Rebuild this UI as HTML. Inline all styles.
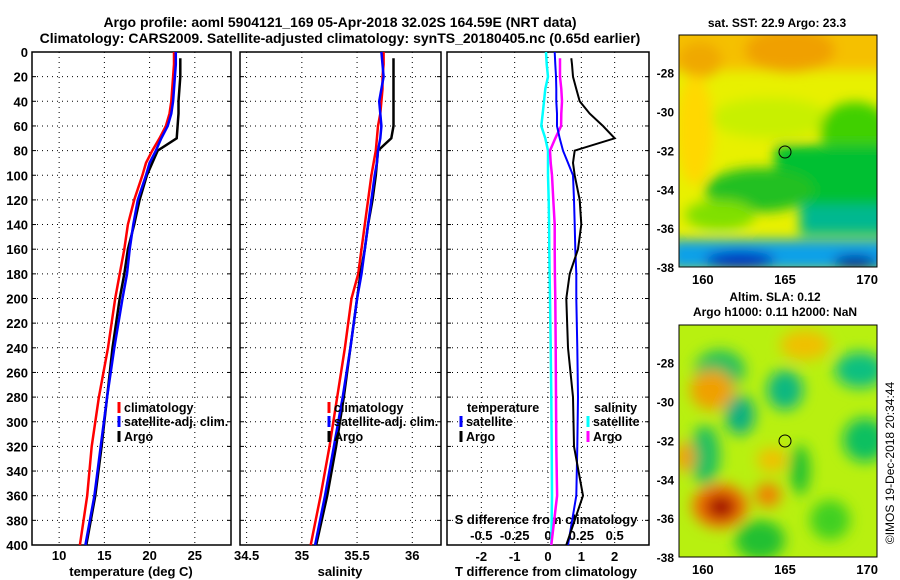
<!DOCTYPE html>
<html><head><meta charset="utf-8"><style>
html,body{margin:0;padding:0;background:#fff;}
svg{display:block;font-family:"Liberation Sans",sans-serif;font-weight:bold;}
</style></head><body>
<svg id="c" width="900" height="580" viewBox="0 0 900 580" xmlns="http://www.w3.org/2000/svg">
<defs>
<filter id="b1" x="-50%" y="-50%" width="200%" height="200%"><feGaussianBlur stdDeviation="6"/></filter>
<filter id="b2" x="-50%" y="-50%" width="200%" height="200%"><feGaussianBlur stdDeviation="7"/></filter>
<clipPath id="m1"><rect x="679" y="35" width="198" height="232"/></clipPath>
<clipPath id="m2"><rect x="679" y="325" width="198" height="232"/></clipPath>
</defs>
<text x="340" y="27" text-anchor="middle" font-size="14">Argo profile: aoml 5904121_169 05-Apr-2018 32.02S 164.59E (NRT data)</text>
<text x="340" y="43" text-anchor="middle" font-size="14">Climatology: CARS2009. Satellite-adjusted climatology: synTS_20180405.nc (0.65d earlier)</text>
<g id="g"></g>
<g clip-path="url(#m1)">
<rect x="679" y="35" width="198" height="232" fill="#e8f000"/>
<g filter="url(#b1)">
<rect x="660" y="15" width="240" height="55" fill="#f5c000"/>
<ellipse cx="790" cy="50" rx="45" ry="22" fill="#f0a000"/>
<ellipse cx="700" cy="60" rx="22" ry="18" fill="#f0a800"/>
<ellipse cx="770" cy="118" rx="60" ry="20" fill="#c8f000"/>
<ellipse cx="855" cy="130" rx="35" ry="28" fill="#40d000"/>
<rect x="775" y="145" width="130" height="60" fill="#00c030"/>
<ellipse cx="760" cy="190" rx="55" ry="22" fill="#20c020"/>
<ellipse cx="720" cy="215" rx="35" ry="15" fill="#80e000"/>
<rect x="800" y="205" width="100" height="30" fill="#00b890"/>
<rect x="670" y="240" width="240" height="30" fill="#10a0e8"/>
<ellipse cx="740" cy="260" rx="35" ry="9" fill="#0030c0"/>
<ellipse cx="855" cy="262" rx="22" ry="7" fill="#0020a0"/>
<ellipse cx="695" cy="130" rx="18" ry="55" fill="#ffd800"/>
</g>
</g>
<rect x="679" y="35" width="198" height="232" fill="none" stroke="#000"/>
<circle cx="785" cy="152" r="6" fill="none" stroke="#000"/>
<text x="777" y="27" text-anchor="middle" font-size="12">sat. SST: 22.9 Argo: 23.3</text>
<g clip-path="url(#m2)">
<rect x="679" y="325" width="198" height="232" fill="#b8f010"/>
<g filter="url(#b2)">
<ellipse cx="720" cy="370" rx="25" ry="20" fill="#20c060"/>
<ellipse cx="785" cy="390" rx="18" ry="20" fill="#10b880"/>
<ellipse cx="860" cy="370" rx="25" ry="18" fill="#10c080"/>
<ellipse cx="740" cy="415" rx="15" ry="20" fill="#10b080"/>
<ellipse cx="705" cy="455" rx="15" ry="30" fill="#20c060"/>
<ellipse cx="865" cy="440" rx="22" ry="22" fill="#10c060"/>
<ellipse cx="800" cy="470" rx="10" ry="25" fill="#20c030"/>
<ellipse cx="760" cy="540" rx="25" ry="20" fill="#20c030"/>
<ellipse cx="830" cy="520" rx="20" ry="20" fill="#40d020"/>
<ellipse cx="712" cy="390" rx="22" ry="20" fill="#f0a000"/>
<ellipse cx="805" cy="345" rx="25" ry="15" fill="#f0c000"/>
<ellipse cx="772" cy="460" rx="15" ry="12" fill="#f0c000"/>
<ellipse cx="768" cy="495" rx="13" ry="12" fill="#f08000"/>
<ellipse cx="685" cy="457" rx="10" ry="15" fill="#f0a000"/>
<ellipse cx="720" cy="506" rx="28" ry="22" fill="#f07000"/>
<ellipse cx="721" cy="507" rx="15" ry="12" fill="#a00000"/>
</g>
</g>
<rect x="679" y="325" width="198" height="232" fill="none" stroke="#000"/>
<circle cx="785" cy="441" r="6" fill="none" stroke="#000"/>
<text x="775" y="301" text-anchor="middle" font-size="12">Altim. SLA: 0.12</text>
<text x="775" y="316" text-anchor="middle" font-size="12">Argo h1000: 0.11 h2000: NaN</text>
<text transform="translate(894,463) rotate(-90)" text-anchor="middle" font-size="12" font-weight="normal">©IMOS 19-Dec-2018 20:34:44</text>
</svg>
<script>
const depths=[0,10,20,30,40,50,60,70,80,90,100,120,140,160,180,200,240,280,320,360,400];
const argoDepths=[5,10,20,30,40,50,60,70,80,90,100,120,140,160,180,200,240,280,320,360,400];
const tempClim=[22.7,22.7,22.6,22.5,22.4,22.2,21.8,21.1,20.3,19.6,19.2,18.3,17.6,17.2,16.7,16.2,15.4,14.4,13.6,13.1,12.3];
const tempSat=[22.9,22.9,22.8,22.7,22.6,22.4,22.0,21.3,20.7,20.0,19.6,18.7,18.2,17.8,17.5,17.0,16.1,15.3,14.6,13.9,12.9];
const tempArgo=[23.4,23.4,23.4,23.3,23.2,23.2,23.1,23.0,20.9,20.3,19.7,18.9,18.3,17.6,17.2,16.7,15.9,15.3,14.7,14.0,13.0];
const salClim=[35.74,35.74,35.73,35.73,35.72,35.71,35.69,35.68,35.67,35.65,35.63,35.6,35.57,35.54,35.51,35.45,35.39,35.32,35.25,35.17,35.08];
const salSat=[35.72,35.73,35.74,35.72,35.7,35.71,35.72,35.71,35.69,35.68,35.66,35.63,35.6,35.57,35.54,35.5,35.44,35.37,35.29,35.21,35.12];
const salArgo=[35.83,35.83,35.83,35.83,35.83,35.83,35.83,35.81,35.69,35.68,35.67,35.64,35.6,35.57,35.53,35.5,35.44,35.38,35.31,35.23,35.13];
const tDiffSat=[0.2,0.22,0.24,0.25,0.25,0.27,0.27,0.35,0.45,0.6,0.75,0.78,0.8,0.82,0.85,0.85,0.88,0.9,0.88,0.85,0.6];
const tDiffArgo=[0.7,0.72,0.75,0.85,0.95,1.25,1.65,2.0,0.8,0.75,0.8,0.95,1.0,0.9,0.65,0.55,0.6,0.75,0.78,1.05,0.55];
const sDiffSat=[-0.015,-0.01,0,-0.02,-0.03,-0.04,-0.05,-0.02,0,0,0,0.005,0.008,0.01,0.012,0.015,0.02,0.025,0.028,0.03,0.025];
const sDiffArgo=[0.09,0.09,0.09,0.1,0.105,0.1,0.098,0.055,0.015,0.02,0.03,0.04,0.05,0.05,0.052,0.055,0.058,0.06,0.062,0.068,0.025];
const depthTicks=[0,20,40,60,80,100,120,140,160,180,200,220,240,260,280,300,320,340,360,380,400];
const tempTicks=[10,15,20,25];
const salTicks=[34.5,35,35.5,36];
const salTickLabels=["34.5","35","35.5","36"];
const tdTicks=[-2,-1,0,1,2];
const sdTicks=[-0.5,-0.25,0,0.25,0.5];
const sdTickLabels=["-0.5","-0.25","0","0.25","0.5"];
const latTicks=[-28,-30,-32,-34,-36,-38];
const lonTicks=[160,165,170];

const NS="http://www.w3.org/2000/svg";
const G=document.getElementById('g');
function el(t,a,p){const e=document.createElementNS(NS,t);for(const k in a)e.setAttribute(k,a[k]);(p||G).appendChild(e);return e;}
const Y0=52,Y1=545;
const yD=d=>Y0+(d/400)*(Y1-Y0);
function lin(d0,d1,r0,r1){return v=>r0+(v-d0)/(d1-d0)*(r1-r0);}
const P=[{x0:32,x1:231,sc:lin(7,29,32,231)},{x0:240,x1:441,sc:lin(34.44,36.26,240,441)},{x0:447,x1:649,sc:lin(-3.03,3.03,447,649)}];
const sdSc=lin(-0.7575,0.7575,447,649);
function grid(p,ticks,name){
  ticks.forEach(t=>{const x=p.sc(t);
    const l=el('line',{x1:x,x2:x,y1:Y0,y2:Y1,stroke:'#000','stroke-dasharray':'1,4','stroke-width':1});
    
    });
  depthTicks.slice(1,-1).forEach(d=>{const y=yD(d);
    const l=el('line',{x1:p.x0,x2:p.x1,y1:y,y2:y,stroke:'#000','stroke-dasharray':'1,4','stroke-width':1});
    
    
    el('line',{x1:p.x0,x2:p.x0+4,y1:y,y2:y,stroke:'#000'});
    el('line',{x1:p.x1-4,x2:p.x1,y1:y,y2:y,stroke:'#000'});});
  const r=el('rect',{x:p.x0,y:Y0,width:p.x1-p.x0,height:Y1-Y0,fill:'none',stroke:'#000','stroke-width':1.5});
  
  
}
grid(P[0],tempTicks,'temperature-panel');
grid(P[1],salTicks,'salinity-panel');
grid(P[2],tdTicks,'difference-panel');
function txt(x,y,s,name,anchor,size){const t=el('text',{x:x,y:y,'text-anchor':anchor||'middle','font-size':size||13});t.textContent=s;
  
  return t;}
depthTicks.forEach(d=>txt(28,yD(d)+5,String(d),'depth-tick-label','end'));
tempTicks.forEach(t=>txt(P[0].sc(t),560,String(t),'temperature-tick-label'));
salTicks.forEach((t,i)=>txt(P[1].sc(t),560,salTickLabels[i],'salinity-tick-label'));
tdTicks.forEach(t=>txt(P[2].sc(t),561,String(t),'t-difference-tick-label'));
sdTicks.forEach((t,i)=>txt(sdSc(t),540,sdTickLabels[i],'s-difference-tick-label'));
txt(131,576,'temperature (deg C)','temperature-axis-title');
txt(340,576,'salinity','salinity-axis-title');
txt(546,576,'T difference from climatology','t-difference-axis-title');
txt(546,524,'S difference from climatology','s-difference-axis-title');
function line(xs,ys,sc,col,w,name){
  const pts=xs.map((v,i)=>sc(v).toFixed(1)+','+yD(ys[i]).toFixed(1)).join(' ');
  const l=el('polyline',{points:pts,fill:'none',stroke:col,'stroke-width':w});
  
  }
line(tempClim,depths,P[0].sc,'#f00',2.5,'temperature-climatology-line');
line(tempArgo,argoDepths,P[0].sc,'#000',2.5,'temperature-argo-line');
line(tempSat,depths,P[0].sc,'#00f',2.5,'temperature-satellite-line');
line(salClim,depths,P[1].sc,'#f00',2.5,'salinity-climatology-line');
line(salArgo,argoDepths,P[1].sc,'#000',2.5,'salinity-argo-line');
line(salSat,depths,P[1].sc,'#00f',2.5,'salinity-satellite-line');
line(sDiffSat,depths,sdSc,'#0ff',2.5,'s-diff-satellite-line');
line(sDiffArgo,argoDepths,sdSc,'#f0f',2.5,'s-diff-argo-line');
line(tDiffSat,depths,P[2].sc,'#00f',2,'t-diff-satellite-line');
line(tDiffArgo,argoDepths,P[2].sc,'#000',2,'t-diff-argo-line');
function leg(x,y,col,s,name){
  if(col){const m=el('line',{x1:x,x2:x,y1:y-10,y2:y+1,stroke:col,'stroke-width':3});
    
    }
  const t=el('text',{x:x+5,y:y,'font-size':12.5});t.textContent=s;
  
  }
leg(119,412,'#f00','climatology','legend-climatology');
leg(119,426,'#00f','satellite-adj. clim.','legend-satellite');
leg(119,441,'#000','Argo','legend-argo');
leg(329,412,'#f00','climatology','legend2-climatology');
leg(329,426,'#00f','satellite-adj. clim.','legend2-satellite');
leg(329,441,'#000','Argo','legend2-argo');
leg(462,412,null,'temperature','legend3-temperature-header');
leg(461,426,'#00f','satellite','legend3-t-satellite');
leg(461,441,'#000','Argo','legend3-t-argo');
leg(589,412,null,'salinity','legend3-salinity-header');
leg(588,426,'#0ff','satellite','legend3-s-satellite');
leg(588,441,'#f0f','Argo','legend3-s-argo');
const lonSc=lin(158.55,170.6,679,877);
[[35,267],[325,557]].forEach(([t,b],k)=>{
  const latSc=lin(-26.06,-38,t,b);
  latTicks.forEach(v=>{const y=latSc(v);
    el('line',{x1:679,x2:683,y1:y,y2:y,stroke:'#000'});el('line',{x1:873,x2:877,y1:y,y2:y,stroke:'#000'});
    txt(674,y+5,String(v),'map-lat-tick-label','end',12);});
  lonTicks.forEach(v=>{const x=lonSc(v);
    el('line',{x1:x,x2:x,y1:b-4,y2:b,stroke:'#000'});el('line',{x1:x,x2:x,y1:t,y2:t+4,stroke:'#000'});
    txt(x,b+17,String(v),'map-lon-tick-label','middle',13);});
});
</script>
</body></html>
